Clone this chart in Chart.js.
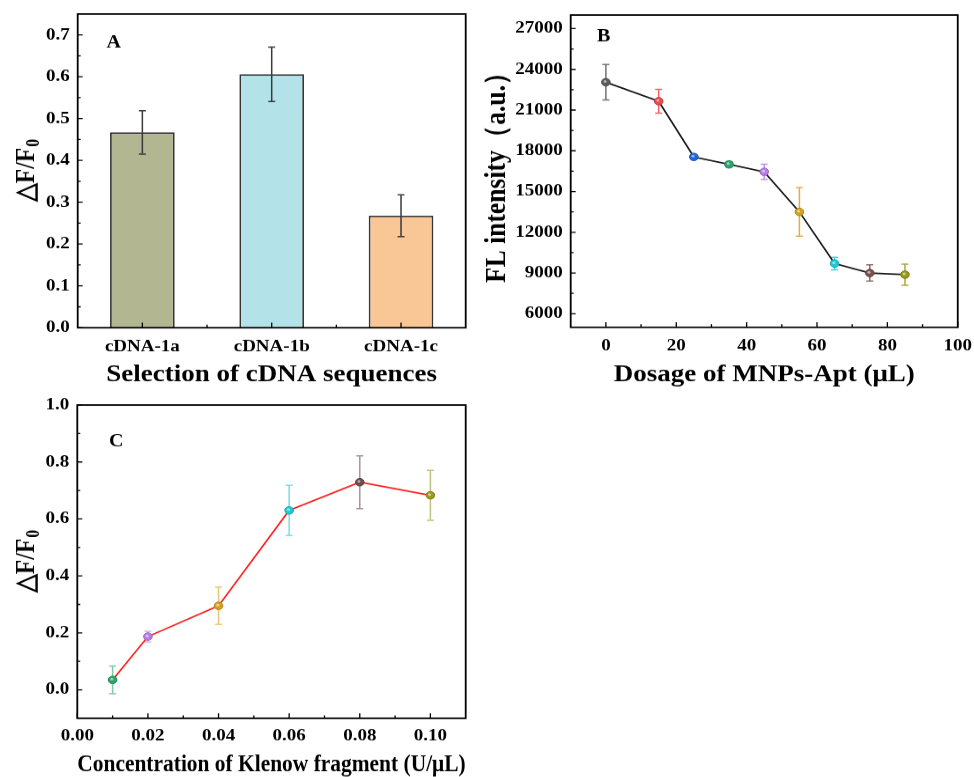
<!DOCTYPE html>
<html>
<head>
<meta charset="utf-8">
<title>cDNA / MNPs-Apt / Klenow optimisation</title>
<script src="https://cdn.jsdelivr.net/npm/chart.js@4.4.1/dist/chart.umd.min.js"></script>
<style>
  html, body { margin: 0; padding: 0; background: #fff; }
  body { width: 974px; height: 777px; position: relative; overflow: hidden; }
  canvas { position: absolute; display: block; }
  #chartA { left: 0; top: 0; }
  #chartB { left: 480px; top: 0; }
  #chartC { left: 0; top: 390px; }
</style>
</head>
<body>
<!-- bitmaps are taller than their boxes: text and marks come out slightly flattened -->
<canvas id="chartA" width="480" height="443" style="width:480px;height:390px"></canvas>
<canvas id="chartB" width="494" height="443" style="width:494px;height:390px"></canvas>
<canvas id="chartC" width="540" height="443" style="width:540px;height:390px"></canvas>
<script>
// --- A: selection of cDNA sequences ---
const cdnaLabels = ["cDNA-1a", "cDNA-1b", "cDNA-1c"];
const cdnaValues = [0.467, 0.606, 0.268];
const cdnaErrors = [0.052, 0.065, 0.050];
const cdnaColors = ["#b3b791", "#b3e3e8", "#f9c696"];
const ticksA = [0, 0.1, 0.2, 0.3, 0.4, 0.5, 0.6, 0.7];

// --- B: dosage of MNPs-Apt ---
const dosageX = [0, 15, 25, 35, 45, 55, 65, 75, 85];
const dosageFL = [23050, 21650, 17550, 17000, 16450, 13500, 9700, 9000, 8880];
const dosageErr = [1300, 880, 150, 200, 560, 1790, 460, 600, 780];
const dosageColors = ["#5c5c5c", "#f2474a", "#1f67d9", "#2ba46b", "#b97ee6", "#d6a31d", "#1dcad6", "#7e5151", "#9a9a1f"];
const ticksBx = [0, 20, 40, 60, 80, 100];
const ticksBy = [6000, 9000, 12000, 15000, 18000, 21000, 24000, 27000];

// --- C: concentration of Klenow fragment ---
const klenowX = [0.01, 0.02, 0.04, 0.06, 0.08, 0.10];
const klenowValues = [0.035, 0.187, 0.295, 0.630, 0.729, 0.683];
const klenowErr = [0.049, 0.019, 0.065, 0.088, 0.093, 0.088];
const klenowColors = ["#2ba46b", "#b97ee6", "#d6a31d", "#1dcad6", "#6f4d4d", "#9a9a1f"];
const ticksCx = [0, 0.02, 0.04, 0.06, 0.08, 0.10];
const ticksCy = [0, 0.2, 0.4, 0.6, 0.8, 1.0];

const SERIF = "'Liberation Serif', 'Times New Roman', serif";
const tickFont = { family: SERIF, size: 19, weight: "bold" };
const titleFont = { family: SERIF, size: 27, weight: "bold" };

// vertical squash of the canvases (css height / bitmap height)
const SQ = 390 / 443;
const iy = v => v / SQ;

function darken(hex, k) {
    const n = parseInt(hex.slice(1), 16);
    const r = Math.round(((n >> 16) & 255) * k);
    const g = Math.round(((n >> 8) & 255) * k);
    const b = Math.round((n & 255) * k);
    return `rgb(${r},${g},${b})`;
}

// box frame, inward major/minor ticks and panel letter
const framePlugin = {
    id: "frame",
    afterDatasetsDraw(chart, args, opts) {
        const { ctx, chartArea: a, scales } = chart;
        const x = scales.x, y = scales.y;
        ctx.save();
        ctx.strokeStyle = "#000";
        ctx.lineWidth = 1.3;
        ctx.beginPath();
        // y axis
        y.ticks.forEach(t => {
            const p = y.getPixelForValue(t.value);
            ctx.moveTo(a.left, p); ctx.lineTo(a.left + 5, p);
        });
        const yStep = y.ticks[1].value - y.ticks[0].value;
        [y.ticks[0].value - yStep / 2].concat(y.ticks.map(t => t.value + yStep / 2)).forEach(v => {
            if (v <= y.min || v >= y.max) return;
            const p = y.getPixelForValue(v);
            ctx.moveTo(a.left, p); ctx.lineTo(a.left + 3, p);
        });
        // x axis
        if (x.type === "category") {
            const n = chart.data.labels.length;
            for (let i = 0; i < n; i++) {
                const p = x.getPixelForValue(i);
                ctx.moveTo(p, a.bottom); ctx.lineTo(p, a.bottom - iy(5));
                if (i < n - 1) {
                    const q = (p + x.getPixelForValue(i + 1)) / 2;
                    ctx.moveTo(q, a.bottom); ctx.lineTo(q, a.bottom - iy(3));
                }
            }
        } else {
            x.ticks.forEach(t => {
                const p = x.getPixelForValue(t.value);
                ctx.moveTo(p, a.bottom); ctx.lineTo(p, a.bottom - iy(5));
            });
            const xStep = x.ticks[1].value - x.ticks[0].value;
            [x.ticks[0].value - xStep / 2].concat(x.ticks.map(t => t.value + xStep / 2)).forEach(v => {
                if (v <= x.min || v >= x.max) return;
                const p = x.getPixelForValue(v);
                ctx.moveTo(p, a.bottom); ctx.lineTo(p, a.bottom - iy(3));
            });
        }
        ctx.stroke();
        ctx.lineWidth = 1.8;
        ctx.strokeRect(a.left, a.top, a.right - a.left, a.bottom - a.top);

        ctx.fillStyle = "#000";
        ctx.font = `bold 20px ${SERIF}`;
        ctx.textAlign = "center";
        ctx.textBaseline = "middle";
        ctx.fillText(opts.letter, a.left + opts.dx, a.top + iy(opts.dy));
        ctx.restore();
    }
};

// vertical error bars read from dataset.errors
function drawErrorBars(chart, opts) {
    const { ctx } = chart;
    const y = chart.scales.y;
    const ds = chart.data.datasets[0];
    const meta = chart.getDatasetMeta(0);
    ctx.save();
    ctx.lineWidth = 1.5;
    meta.data.forEach((el, i) => {
        const raw = ds.data[i];
        const v = typeof raw === "object" ? raw.y : raw;
        const e = ds.errors[i];
        const top = y.getPixelForValue(v + e);
        const bot = y.getPixelForValue(v - e);
        const cap = opts.cap;
        ctx.globalAlpha = opts.alpha;
        ctx.strokeStyle = ds.errorColors[i];
        ctx.beginPath();
        ctx.moveTo(el.x, top); ctx.lineTo(el.x, bot);
        ctx.moveTo(el.x - cap, top); ctx.lineTo(el.x + cap, top);
        ctx.moveTo(el.x - cap, bot); ctx.lineTo(el.x + cap, bot);
        ctx.stroke();
    });
    ctx.restore();
}

const errorPlugin = {
    id: "errorBars",
    beforeDatasetsDraw(chart, args, opts) {
        if (opts.under) drawErrorBars(chart, opts);
    },
    afterDatasetsDraw(chart, args, opts) {
        if (!opts.under) drawErrorBars(chart, opts);
        if (opts.gloss) {
            // small highlight on the round markers
            const ctx = chart.ctx;
            ctx.save();
            ctx.fillStyle = "rgba(255,255,255,0.55)";
            chart.getDatasetMeta(0).data.forEach(el => {
                ctx.beginPath();
                ctx.arc(el.x - 0.8, el.y - 0.9, 1.5, 0, Math.PI * 2);
                ctx.fill();
            });
            ctx.restore();
        }
    }
};

// rotated "△F/F0" title with subscript
const deltaTitlePlugin = {
    id: "deltaTitle",
    afterDraw(chart, args, opts) {
        if (!opts.display) return;
        const { ctx, chartArea: a } = chart;
        const main = "\u25B3F/F";
        const sub = "0";
        ctx.save();
        ctx.translate(opts.x, (a.top + a.bottom) / 2);
        ctx.rotate(-Math.PI / 2);
        ctx.fillStyle = "#000";
        ctx.textAlign = "left";
        ctx.textBaseline = "middle";
        ctx.font = `bold 27px ${SERIF}`;
        const w1 = ctx.measureText(main).width;
        ctx.font = `bold 18px ${SERIF}`;
        const w2 = ctx.measureText(sub).width;
        const start = -(w1 + w2) / 2;
        ctx.font = `bold 27px ${SERIF}`;
        ctx.fillText(main, start, 0);
        ctx.font = `bold 18px ${SERIF}`;
        ctx.fillText(sub, start + w1 + 1, 7);
        ctx.restore();
    }
};

const plugins = [errorPlugin, framePlugin, deltaTitlePlugin];

// grid lines are hidden; the default tick length still spaces the labels
function yScale(min, max, ticks, width, fmt) {
    return {
        min: min, max: max,
        afterBuildTicks: s => { s.ticks = ticks.map(v => ({ value: v })); },
        afterFit: s => { s.width = width; },
        grid: { display: false },
        border: { display: false },
        ticks: { font: tickFont, color: "#000", padding: 0, callback: fmt }
    };
}

function xLinear(min, max, ticks, height, pad, fmt, title) {
    return {
        type: "linear", min: min, max: max,
        afterBuildTicks: s => { s.ticks = ticks.map(v => ({ value: v })); },
        afterFit: s => { s.height = height; },
        grid: { display: false },
        border: { display: false },
        ticks: { font: tickFont, color: "#000", padding: pad, maxRotation: 0, callback: fmt },
        title: { display: true, text: title, font: titleFont, color: "#000", padding: { top: 0, bottom: 1 } }
    };
}

Chart.defaults.animation = false;

// A
new Chart(document.getElementById("chartA"), {
    type: "bar",
    data: {
        labels: cdnaLabels,
        datasets: [{
            data: cdnaValues,
            errors: cdnaErrors,
            errorColors: cdnaValues.map(() => "#3a3a3a"),
            backgroundColor: cdnaColors,
            borderColor: "#353535",
            borderWidth: 1.8,
            barPercentage: 0.5,
            categoryPercentage: 1.0
        }]
    },
    options: {
        responsive: false,
        layout: { padding: { left: 0, top: iy(14), right: 14.3, bottom: 0 } },
        scales: {
            x: {
                afterFit: s => { s.height = iy(62.3); },
                grid: { display: false },
                border: { display: false },
                ticks: { font: tickFont, color: "#000", padding: 2 },
                title: { display: true, text: "Selection of cDNA sequences", font: titleFont, color: "#000", padding: { top: 0, bottom: 1 } }
            },
            y: yScale(0, 0.75, ticksA, 77.7, v => v.toFixed(1))
        },
        plugins: {
            legend: { display: false },
            tooltip: { enabled: false },
            errorBars: { under: false, cap: 3.5, alpha: 1 },
            frame: { letter: "A", dx: 36, dy: 29 },
            deltaTitle: { display: true, x: 27 }
        }
    },
    plugins: plugins
});

// B
new Chart(document.getElementById("chartB"), {
    type: "line",
    data: {
        datasets: [{
            data: dosageX.map((x, i) => ({ x: x, y: dosageFL[i] })),
            errors: dosageErr,
            errorColors: dosageColors,
            borderColor: "#1a1a1a",
            borderWidth: 1.7,
            tension: 0,
            pointRadius: 4.3,
            pointBorderWidth: 1,
            pointBackgroundColor: dosageColors,
            pointBorderColor: dosageColors.map(c => darken(c, 0.8))
        }]
    },
    options: {
        responsive: false,
        layout: { padding: { left: 0, top: iy(15), right: 15.7, bottom: 0 } },
        scales: {
            x: xLinear(-10, 100, ticksBx, iy(62.7), 2, v => String(v), "Dosage of MNPs-Apt (\u03BCL)"),
            y: Object.assign(yScale(5000, 28000, ticksBy, 90.7, v => String(v)), {
                title: { display: true, text: "FL intensity\uFF08a.u.\uFF09", font: { family: SERIF, size: 29, weight: "bold" }, color: "#000", padding: { top: 0, bottom: 0 } }
            })
        },
        plugins: {
            legend: { display: false },
            tooltip: { enabled: false },
            errorBars: { under: true, cap: 3.5, alpha: 0.85, gloss: true },
            frame: { letter: "B", dx: 33, dy: 22 },
            deltaTitle: { display: false }
        }
    },
    plugins: plugins
});

// C
new Chart(document.getElementById("chartC"), {
    type: "line",
    data: {
        datasets: [{
            data: klenowX.map((x, i) => ({ x: x, y: klenowValues[i] })),
            errors: klenowErr,
            errorColors: klenowColors,
            borderColor: "#ff1f1f",
            borderWidth: 1.7,
            tension: 0,
            pointRadius: 4.3,
            pointBorderWidth: 1,
            pointBackgroundColor: klenowColors,
            pointBorderColor: klenowColors.map(c => darken(c, 0.8))
        }]
    },
    options: {
        responsive: false,
        layout: { padding: { left: 0, top: iy(15), right: 74.3, bottom: 0 } },
        scales: {
            x: xLinear(0, 0.11, ticksCx, iy(61.7), 1, v => v.toFixed(2), "Concentration of Klenow fragment (U/\u03BCL)"),
            y: yScale(-0.1, 1.0, ticksCy, 77.3, v => v.toFixed(1))
        },
        plugins: {
            legend: { display: false },
            tooltip: { enabled: false },
            errorBars: { under: true, cap: 3.5, alpha: 0.6, gloss: true },
            frame: { letter: "C", dx: 39, dy: 37 },
            deltaTitle: { display: true, x: 27 }
        }
    },
    plugins: plugins
});
</script>
</body>
</html>
